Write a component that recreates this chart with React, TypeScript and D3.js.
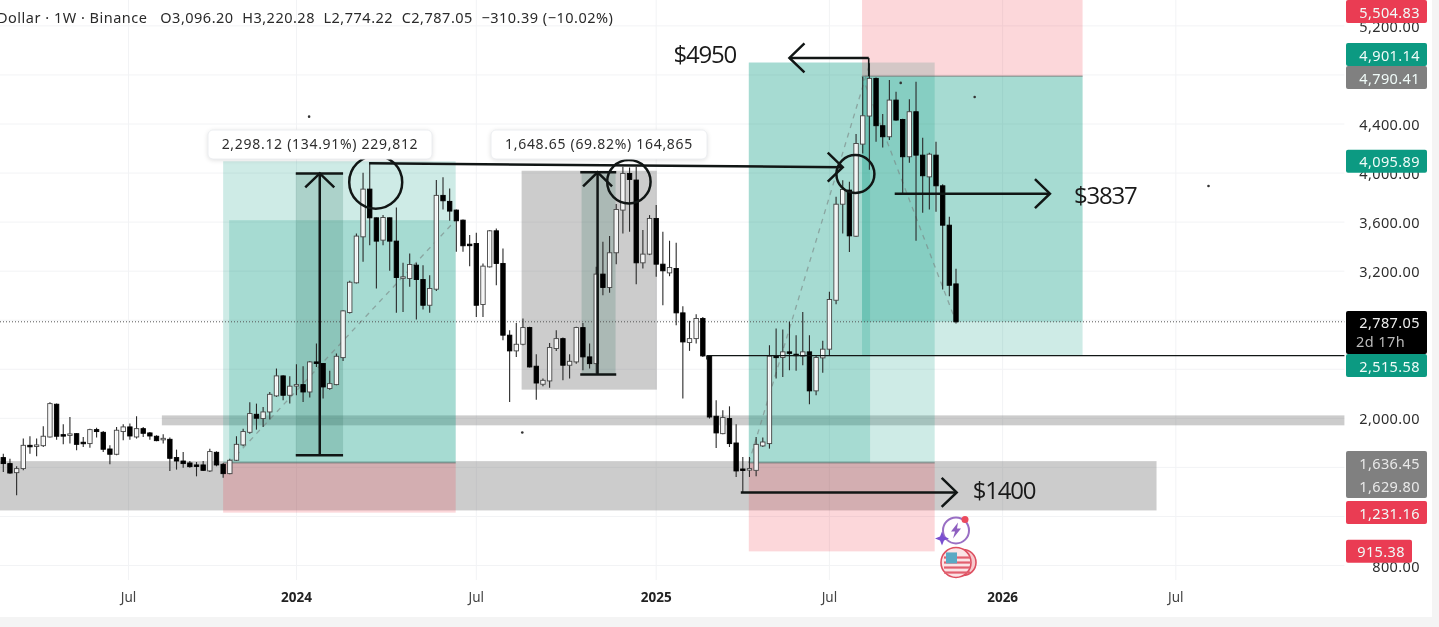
import { useEffect, useRef } from "react";
import * as d3 from "d3";

// weekly bars
const opens = [
    1680, 1631, 1557, 1590, 1780, 1772, 1777, 1848, 2115, 1867,
    1862, 1875, 1805, 1794, 1908, 1886, 1750, 1707, 1892, 1930,
    1848, 1916, 1881, 1854, 1829, 1829, 1680, 1652, 1636, 1620,
    1620, 1571, 1723, 1625, 1549, 1658, 1783, 1886, 2033, 1998,
    2052, 2183, 2346, 2188, 2267, 2275, 2215, 2460, 2447, 2243,
    2275, 2495, 2863, 3105, 3480, 3869, 3635, 3453, 3635, 3445,
    3146, 3140, 3249, 3132, 2922, 3053, 3818, 3769, 3698, 3616,
    3420, 3426, 2928, 3235, 3529, 3263, 2678, 2550, 2604, 2740,
    2425, 2278, 2305, 2569, 2650, 2433, 2460, 2740, 2501, 2446,
    3176, 3067, 3350, 3698, 3997, 3943, 3268, 3339, 3630, 3257,
    3186, 3222, 2860, 2618, 2650, 2814, 2509, 2017, 1875, 1998,
    1799, 1587, 1579, 1576, 1775, 1794, 2507, 2496, 2542, 2523,
    2507, 2542, 2224, 2493, 2564, 2963, 3746, 3861, 3485, 4236,
    4465, 4772, 4386, 4296, 4595, 4437, 4133, 4500, 4146, 3969,
    4146, 3896, 3575, 3096.2,
];
const closes = [
    1631, 1554, 1590, 1780, 1769, 1783, 1854, 2120, 1854, 1862,
    1873, 1788, 1794, 1908, 1892, 1748, 1707, 1903, 1930, 1856,
    1916, 1878, 1856, 1818, 1837, 1674, 1652, 1631, 1606, 1614,
    1576, 1729, 1620, 1549, 1658, 1788, 1892, 2039, 2001, 2052,
    2196, 2346, 2188, 2262, 2275, 2215, 2460, 2452, 2256, 2283,
    2506, 2876, 3110, 3486, 3869, 3635, 3445, 3638, 3445, 3148,
    3154, 3254, 3132, 2922, 3059, 3818, 3774, 3690, 3611, 3407,
    3410, 2922, 3241, 3529, 3263, 2678, 2550, 2604, 2740, 2419,
    2288, 2310, 2577, 2650, 2433, 2465, 2740, 2501, 2446, 3176,
    3067, 3350, 3703, 3997, 3948, 3268, 3339, 3630, 3257, 3203,
    3230, 2860, 2623, 2650, 2814, 2509, 2011, 1881, 2006, 1794,
    1571, 1576, 1590, 1788, 1807, 2507, 2496, 2542, 2531, 2512,
    2542, 2224, 2496, 2564, 2969, 3746, 3866, 3488, 4241, 4467,
    4772, 4386, 4296, 4595, 4432, 4133, 4500, 4146, 3978, 4154,
    3896, 3575, 3085, 2787.05,
];
const highs = [
    1712, 1671, 1609, 1835, 1854, 1835, 1935, 2131, 2120, 1952,
    2011, 1881, 1848, 1916, 1924, 1897, 1780, 1930, 1952, 1957,
    2017, 1930, 1889, 1862, 1870, 1843, 1745, 1726, 1652, 1644,
    1652, 1753, 1731, 1636, 1671, 1854, 1916, 2131, 2120, 2093,
    2215, 2406, 2351, 2343, 2441, 2425, 2468, 2610, 2452, 2387,
    2528, 2882, 3121, 3508, 4003, 4079, 3638, 3657, 3638, 3720,
    3268, 3344, 3268, 3249, 3167, 3943, 3965, 3875, 3703, 3622,
    3494, 3513, 3263, 3535, 3548, 3385, 2718, 2778, 2814, 2746,
    2523, 2324, 2615, 2718, 2659, 2523, 2746, 2778, 2610, 3235,
    3439, 3486, 3747, 4052, 4046, 4052, 3535, 3657, 3739, 3521,
    3448, 3431, 2914, 2795, 2849, 2827, 2515, 2147, 2066, 2098,
    1951, 1685, 1685, 1848, 1843, 2596, 2732, 2724, 2787, 2678,
    2868, 2678, 2515, 2632, 3032, 3806, 3942, 3929, 4318, 4786,
    4895, 4780, 4481, 4758, 4663, 4443, 4601, 4745, 4288, 4165,
    4255, 3909, 3643, 3220.28,
];
const lows = [
    1563, 1549, 1372, 1576, 1712, 1690, 1767, 1843, 1826, 1788,
    1794, 1739, 1767, 1761, 1843, 1726, 1625, 1699, 1821, 1826,
    1835, 1848, 1826, 1813, 1794, 1571, 1582, 1598, 1598, 1527,
    1571, 1563, 1609, 1516, 1544, 1652, 1772, 1875, 1908, 1930,
    1990, 2175, 2147, 2120, 2188, 2134, 2169, 2419, 2161, 2234,
    2270, 2468, 2854, 3099, 3276, 3412, 3058, 3412, 3203, 2860,
    2868, 3072, 2805, 2887, 2860, 3039, 3703, 3611, 3358, 3358,
    3241, 2827, 2827, 3230, 3086, 2637, 2133, 2501, 2596, 2414,
    2152, 2261, 2250, 2550, 2310, 2324, 2446, 2392, 2406, 2365,
    3004, 3023, 3257, 3507, 3521, 3094, 3222, 3331, 3154, 2922,
    3159, 2759, 2161, 2550, 2610, 2501, 1998, 1758, 1870, 1766,
    1522, 1399, 1522, 1527, 1767, 1753, 2324, 2338, 2392, 2387,
    2433, 2115, 2188, 2371, 2515, 2930, 3507, 3357, 3480, 4160,
    4027, 4255, 4209, 4269, 4427, 3833, 4084, 3447, 3676, 3703,
    3684, 3050, 2995, 2774.22,
];

// x ticks sit on bar numbers
const timeTickBars = [18.8, 44, 71, 98, 124, 150, 176];
const timeTickLabels = ["Jul", "2024", "Jul", "2025", "Jul", "2026", "Jul"];
const gridPrices = [800, 1200, 1600, 2000, 2400, 2800, 3200, 3600, 4000, 4400, 4800, 5200];
const axisPrices = [5200, 4400, 4000, 3600, 3200, 2000, 800];

// right axis tags
const tagValues = [5504.83, 4901.14, 4790.41, 4095.89, 2515.58, 1231.16, 915.38];
const tagTypes = ["loss", "gain", "mute", "gain", "gain", "loss", "loss"];

// [bar from, bar to, price top, price bottom]
const grayZones = [
    [-1, 173.1, 1651, 1249],
    [23.8, 201.3, 2024, 1943],
    [77.8, 98.1, 4019, 2234],
];
const tealZones = [
    [33, 67.9, 4095.89, 1636.45],
    [33.9, 67.9, 3616, 1636.45],
    [111.9, 139.8, 4901.14, 1636.45],
    [111.9, 130.1, 4901.14, 1636.45],
    [128.9, 162, 4790.41, 2515.58],
    [128.9, 162, 4790.41, 2787.05],
];
const redZones = [
    [33, 67.9, 1636.45, 1231.16],
    [111.9, 139.8, 1636.45, 915.38],
    [128.9, 162, 5504.83, 4790.41],
];
const measureZones = [
    [43.9, 51, 3997, 1698],
    [86.8, 91.9, 4006, 2357],
];
const dashedLegs = [
    [33.9, 1636.45, 67.9, 3616],
    [111.9, 1636.45, 130.1, 4901.14],
    [128.9, 4790.41, 143, 2787.05],
];
const specks = [
    [45.9, 4460],
    [145.8, 4620],
    [180.9, 3895],
    [77.9, 1885],
    [134.7, 4735],
];

const FONT = "'Noto Sans', sans-serif";
const INK = "#111615";

const App = () => {
    const svgRef = useRef<SVGSVGElement>(null);

    useEffect(() => {
        if (!svgRef.current) return;
        const svg = d3.select(svgRef.current);
        svg.selectAll("*").remove();

        const x = d3.scaleLinear().domain([0, 143]).range([3.3, 956]);
        const y = d3.scaleLinear().domain([800, 4400]).range([565.5, 124]);
        const plotRight = x(201.3);

        // Page and plot background
        svg.append("rect").attr("width", 1439).attr("height", 627).attr("fill", "#f4f4f4");
        svg.append("rect").attr("width", 1432).attr("height", 617).attr("fill", "#fff");

        // Grid
        const grid = svg.append("g").attr("stroke", "#f2f3f5");
        gridPrices.forEach((p) => {
            grid.append("line").attr("x1", 0).attr("x2", plotRight).attr("y1", y(p)).attr("y2", y(p));
        });
        timeTickBars.forEach((b) => {
            grid.append("line").attr("x1", x(b)).attr("x2", x(b)).attr("y1", 0).attr("y2", 580);
        });

        const addZones = (rows: number[][], fill: string) => {
            svg.append("g")
                .selectAll("rect")
                .data(rows)
                .enter()
                .append("rect")
                .attr("x", (d) => x(d[0]))
                .attr("y", (d) => y(d[2]))
                .attr("width", (d) => x(d[1]) - x(d[0]))
                .attr("height", (d) => y(d[3]) - y(d[2]))
                .attr("fill", fill);
        };

        addZones(grayZones, "rgba(110,110,110,0.35)");
        addZones(tealZones, "rgba(8,153,129,0.2)");
        addZones(redZones, "rgba(242,54,69,0.2)");
        addZones(measureZones, "rgba(40,110,90,0.2)");

        // Entry lines of the position tools
        const entries = svg.append("g").attr("stroke", "rgba(110,110,110,0.8)");
        [[33, 67.9, 1636.45], [111.9, 139.8, 1636.45], [128.9, 162, 4790.41]].forEach((e) => {
            entries.append("line").attr("x1", x(e[0])).attr("x2", x(e[1])).attr("y1", y(e[2])).attr("y2", y(e[2]));
        });

        // Dashed stop-target legs
        svg.append("g")
            .selectAll("line")
            .data(dashedLegs)
            .enter()
            .append("line")
            .attr("x1", (d) => x(d[0]))
            .attr("y1", (d) => y(d[1]))
            .attr("x2", (d) => x(d[2]))
            .attr("y2", (d) => y(d[3]))
            .attr("stroke", "rgba(120,130,128,0.6)")
            .attr("stroke-width", 1.3)
            .attr("stroke-dasharray", "5 5");

        // Last price line
        svg.append("line")
            .attr("x1", 0)
            .attr("x2", plotRight)
            .attr("y1", y(2787.05))
            .attr("y2", y(2787.05))
            .attr("stroke", "#555")
            .attr("stroke-dasharray", "1 2");

        // Candles
        const bars = d3.range(opens.length);
        const candles = svg.append("g");
        candles
            .selectAll("line")
            .data(bars)
            .enter()
            .append("line")
            .attr("x1", (i) => x(i))
            .attr("x2", (i) => x(i))
            .attr("y1", (i) => y(highs[i]))
            .attr("y2", (i) => y(lows[i]))
            .attr("stroke", "#2a2a2a")
            .attr("stroke-width", 1.1);
        candles
            .selectAll("rect")
            .data(bars)
            .enter()
            .append("rect")
            .attr("x", (i) => x(i) - 2.2)
            .attr("width", 4.4)
            .attr("y", (i) => y(Math.max(opens[i], closes[i])))
            .attr("height", (i) => Math.max(1.5, Math.abs(y(opens[i]) - y(closes[i]))))
            .attr("fill", (i) => (closes[i] >= opens[i] ? "rgba(255,255,255,0.92)" : "#000"))
            .attr("stroke", (i) => (closes[i] >= opens[i] ? "#444" : "#000"))
            .attr("stroke-width", 0.9);

        // Hand-drawn lines
        const ink = svg.append("g").attr("fill", "none").attr("stroke", INK).attr("stroke-width", 2.5);
        const seg = (b0: number, p0: number, b1: number, p1: number, w = 2.5) => {
            ink.append("line")
                .attr("x1", x(b0))
                .attr("y1", y(p0))
                .attr("x2", x(b1))
                .attr("y2", y(p1))
                .attr("stroke-width", w);
        };
        // measure heads point up, the others point sideways
        const headUp = (b: number, p: number) => {
            const tx = x(b);
            const ty = y(p);
            ink.append("path").attr("d", `M${tx - 14.5},${ty + 14}L${tx},${ty}L${tx + 14.5},${ty + 14}`);
        };
        const headSide = (b: number, p: number, dir: number) => {
            const tx = x(b);
            const ty = y(p);
            ink.append("path").attr("d", `M${tx - dir * 15},${ty - 14.5}L${tx},${ty}L${tx - dir * 15},${ty + 14.5}`);
        };

        // First measure
        seg(47.5, 1698, 47.5, 3997);
        seg(43.9, 1698, 51, 1698);
        seg(43.9, 3997, 51, 3997);
        headUp(47.5, 3997);
        // Second measure
        seg(89.2, 2357, 89.2, 4006);
        seg(86.6, 2357, 92, 2357);
        seg(86.6, 4006, 92, 4006);
        headUp(89.2, 4006);

        // Resistance line and circles
        seg(54.9, 4079, 126, 4048);
        headSide(126, 4048, 1);
        [[55.9, 3926, 26.5], [93.9, 3929, 21.7], [127.9, 3992, 19]].forEach((c) => {
            ink.append("circle").attr("cx", x(c[0])).attr("cy", y(c[1])).attr("r", c[2]);
        });

        // 4950 pointer
        seg(129.9, 4790, 129.9, 4939, 1.6);
        seg(129.9, 4939, 118, 4939);
        headSide(118, 4939, -1);
        // 3837 pointer
        seg(133.8, 3832, 157.1, 3832);
        headSide(157.1, 3832, 1);
        // 1400 pointer
        seg(110.7, 1396, 143.1, 1396);
        headSide(143.1, 1396, 1);
        // 2515 level
        seg(105.6, 2512, 201.3, 2512, 1.3);
        seg(105.6, 2512, 105.6, 2480, 1.3);

        // Stray specks in the frame
        svg.append("g")
            .selectAll("circle")
            .data(specks)
            .enter()
            .append("circle")
            .attr("cx", (d) => x(d[0]))
            .attr("cy", (d) => y(d[1]))
            .attr("r", 1.3)
            .attr("fill", "#333");

        // Big price notes
        [["$4950", 100.6, 4947], ["$3837", 160.7, 3796], ["$1400", 145.5, 1396]].forEach((n) => {
            svg.append("text")
                .attr("x", x(n[1] as number))
                .attr("y", y(n[2] as number))
                .attr("dominant-baseline", "middle")
                .attr("font-family", "'Open Sans', sans-serif")
                .attr("font-size", 24)
                .attr("letter-spacing", -1.2)
                .attr("fill", "#1a1a1a")
                .text(n[0] as string);
        });

        // Measure pills
        [
            ["2,298.12 (134.91%) 229,812", 208, 224, 320],
            ["1,648.65 (69.82%) 164,865", 491, 216, 599],
        ].forEach((m) => {
            const left = m[1] as number;
            svg.append("rect")
                .attr("x", left)
                .attr("y", 130)
                .attr("width", m[2] as number)
                .attr("height", 29)
                .attr("rx", 5)
                .attr("fill", "#fff")
                .attr("stroke", "#eceef1")
                .attr("filter", "drop-shadow(0 1px 2px rgba(0,0,0,0.12))");
            svg.append("text")
                .attr("x", m[3] as number)
                .attr("y", 145)
                .attr("text-anchor", "middle")
                .attr("dominant-baseline", "middle")
                .attr("font-family", FONT)
                .attr("font-size", 14)
                .attr("letter-spacing", 0.7)
                .attr("fill", "#2e2e2e")
                .text(m[0] as string);
        });

        // Icons beside the last bars
        const bolt = svg.append("g").attr("transform", `translate(${x(143)},${y(1086)})`);
        bolt.append("circle").attr("r", 13).attr("fill", "none").attr("stroke", "#9a6fc4").attr("stroke-width", 2);
        bolt.append("path").attr("d", "M2,-8L-5,1L-1,1L-3,8L5,-2L1,-2Z").attr("fill", "#8e5fc0");
        bolt.append("circle").attr("cx", 9).attr("cy", -11).attr("r", 3.5).attr("fill", "#ec4a5d");
        bolt.append("path").attr("d", "M-14,1L-12,6L-7,8L-12,10L-14,15L-16,10L-21,8L-16,6Z").attr("fill", "#7a4fd0");
        const flag = svg.append("g").attr("transform", `translate(${x(143) + 2},${y(825)})`);
        flag.append("circle").attr("cx", 5).attr("r", 13).attr("fill", "#f7c9cd").attr("stroke", "#dd4f60").attr("stroke-width", 1.6);
        flag.append("circle").attr("cx", -2).attr("r", 15).attr("fill", "#fbe4e6").attr("stroke", "#dd4f60").attr("stroke-width", 1.6);
        d3.range(-6, 12, 5).forEach((o) => {
            flag.append("rect").attr("x", -14).attr("y", o).attr("width", 26).attr("height", 2.2).attr("fill", "#e2606f");
        });
        flag.append("rect").attr("x", -12).attr("y", -10).attr("width", 11).attr("height", 11).attr("fill", "#5aa9c4");

        // Price axis
        const axis = svg.append("g").attr("font-family", FONT).attr("font-size", 14.5).attr("letter-spacing", 0.4);
        const fmt = d3.format(",.2f");
        axisPrices.forEach((p) => {
            axis.append("text")
                .attr("x", 1420)
                .attr("y", y(p))
                .attr("text-anchor", "end")
                .attr("dominant-baseline", "central")
                .attr("fill", "#2e2e2e")
                .text(fmt(p));
        });

        const tagFill: Record<string, string> = { gain: "#0c9a82", loss: "#ea3c53", mute: "#808080" };
        // tags nudged where the real chart pushes them apart
        const tagTop = (v: number) => {
            if (v === 5504.83) return 0;
            if (v === 4901.14) return 43;
            if (v === 4790.41) return 66;
            if (v === 2515.58) return 354;
            return y(v) - 11.5;
        };
        const drawTag = (txt: string, top: number, fill: string, w = 81, h = 23) => {
            axis.append("rect").attr("x", 1346).attr("y", top).attr("width", w).attr("height", h).attr("rx", 2).attr("fill", fill);
            axis.append("text")
                .attr("x", 1346 + w - 7)
                .attr("y", top + h / 2)
                .attr("text-anchor", "end")
                .attr("dominant-baseline", "central")
                .attr("fill", "#f0fbf8")
                .text(txt);
        };
        tagValues.forEach((v, i) => {
            const w = v < 1000 ? 66 : 81;
            drawTag(fmt(v), tagTop(v), tagFill[tagTypes[i]], w);
        });

        // Gray pair for the 1,636 / 1,629 levels
        axis.append("rect").attr("x", 1346).attr("y", 451).attr("width", 81).attr("height", 47).attr("rx", 2).attr("fill", "#808080");
        [[1636.45, 463], [1629.8, 486]].forEach((r) => {
            axis.append("text")
                .attr("x", 1420)
                .attr("y", r[1])
                .attr("text-anchor", "end")
                .attr("dominant-baseline", "central")
                .attr("fill", "#e8e8e8")
                .text(fmt(r[0]));
        });

        // Last price with countdown
        axis.append("rect").attr("x", 1346).attr("y", 311).attr("width", 81).attr("height", 43).attr("rx", 2).attr("fill", "#000");
        axis.append("text").attr("x", 1420).attr("y", 322).attr("text-anchor", "end").attr("dominant-baseline", "central").attr("fill", "#eee").text(fmt(2787.05));
        axis.append("text").attr("x", 1405).attr("y", 341).attr("text-anchor", "end").attr("dominant-baseline", "central").attr("fill", "#bbb").text("2d 17h");

        // Time axis
        timeTickBars.forEach((b, i) => {
            const isYear = timeTickLabels[i] !== "Jul";
            svg.append("text")
                .attr("x", x(b))
                .attr("y", 598)
                .attr("text-anchor", "middle")
                .attr("dominant-baseline", "middle")
                .attr("font-family", FONT)
                .attr("font-size", 13.5)
                .attr("font-weight", isYear ? 700 : 400)
                .attr("fill", isYear ? "#222" : "#444")
                .text(timeTickLabels[i]);
        });

        // Header
        svg.append("text")
            .attr("x", -3)
            .attr("y", 19)
            .attr("dominant-baseline", "middle")
            .attr("font-family", FONT)
            .attr("font-size", 14.5)
            .attr("letter-spacing", 0.5)
            .attr("fill", "#2a2a2a")
            .attr("xml:space", "preserve")
            .text("Dollar · 1W · Binance   O3,096.20  H3,220.28  L2,774.22  C2,787.05  −310.39 (−10.02%)");
    }, []);

    return (
        <svg
            ref={svgRef}
            width={1439}
            height={627}
            style={{ position: "absolute", left: 0, top: 0, display: "block", filter: "blur(0.45px)" }}
        />
    );
};

export default App;
